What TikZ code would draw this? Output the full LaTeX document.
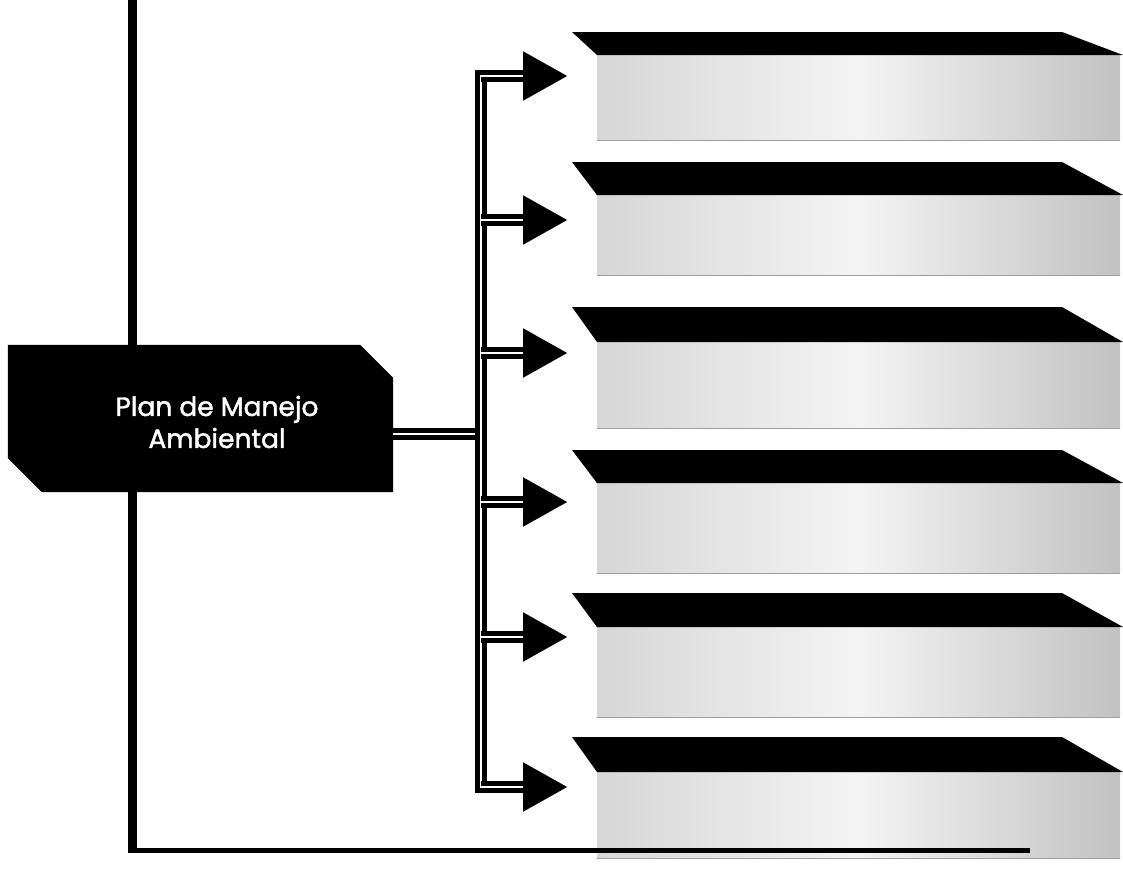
\documentclass[tikz,border=0pt]{standalone}
\usepackage{fontspec}
\setmainfont{Poppins}
\newfontfamily\labelfont{Poppins}[FakeBold=1.6]
\usetikzlibrary{arrows.meta}
\begin{document}
\begin{tikzpicture}[x=1pt,y=-1pt,
  rail/.style={line width=9pt,black},
  sill/.style={line width=5pt,black},
  pipe/.style={draw=black,double=white,double distance=1.5pt,line width=5.25pt},
  branch/.style={line width=12pt,black,-{Triangle[length=45pt,width=46pt]},
    postaction={draw=white,line width=1.5pt,-,shorten >=45pt}},
  mainbox/.style={rectangle,draw=none,minimum width=385pt,minimum height=147pt,inner sep=0pt},
  maintext/.style={text=white,align=center,font=\labelfont\fontsize{26.5}{32}\selectfont},
  face/.style={anchor=north west,minimum width=523pt,inner sep=0pt,draw=none,
    left color=gray!32,right color=gray!48,middle color=gray!9},
  lid/.style={fill=black}
]
\useasboundingbox (0,0) rectangle (1123,889);

% frame rail on the left
\draw[rail] (132,0) -- (132,852);

% main box with two cut corners
\node[mainbox] (pm) at (200.5,418.5) {};
\fill (pm.north west) -- ([xshift=-33pt]pm.north east) -- ([yshift=-33pt]pm.north east)
  -- (pm.south east) -- ([xshift=34pt]pm.south west) -- ([yshift=34pt]pm.south west) -- cycle;
\node[maintext] (pmtext) at (217,422) {Plan de Manejo\\Ambiental};

% program boxes: shaded front face with a black slanted lid
\foreach \i/\top/\fy/\fh in {1/32/55/85, 2/162/195/80, 3/307/342/86, 4/450/483/90, 5/593/627/90, 6/737/772/86}{
  \node[face,minimum height=\fh pt] (b\i) at (597,\fy) {};
  \fill[lid] (572,\top) -- (1062,\top) -- (1123,\fy) -- (b\i.north west) -- cycle;
  \draw[gray!75,line width=1.2pt] (b\i.south west) -- (b\i.south east);
}

% bottom rail
\draw[sill] (127.5,850) -- (1030,850);

% bus junctions and arrow tips
\foreach \i/\y in {1/76, 2/220, 3/353, 4/502, 5/637, 6/787}{
  \coordinate (j\i) at (481,\y);
  \coordinate (t\i) at (568,\y);
}
\coordinate (jm) at (481,434);

% trunk from the main box and the vertical bus
\draw[pipe] (jm -| pm.east) -- (jm);
\draw[pipe,line cap=rect] (j1) -- (j6);

% branches to the program boxes
\foreach \i in {1,...,6}{
  \draw[branch] (j\i) -- (t\i);
}
\end{tikzpicture}
\end{document}
